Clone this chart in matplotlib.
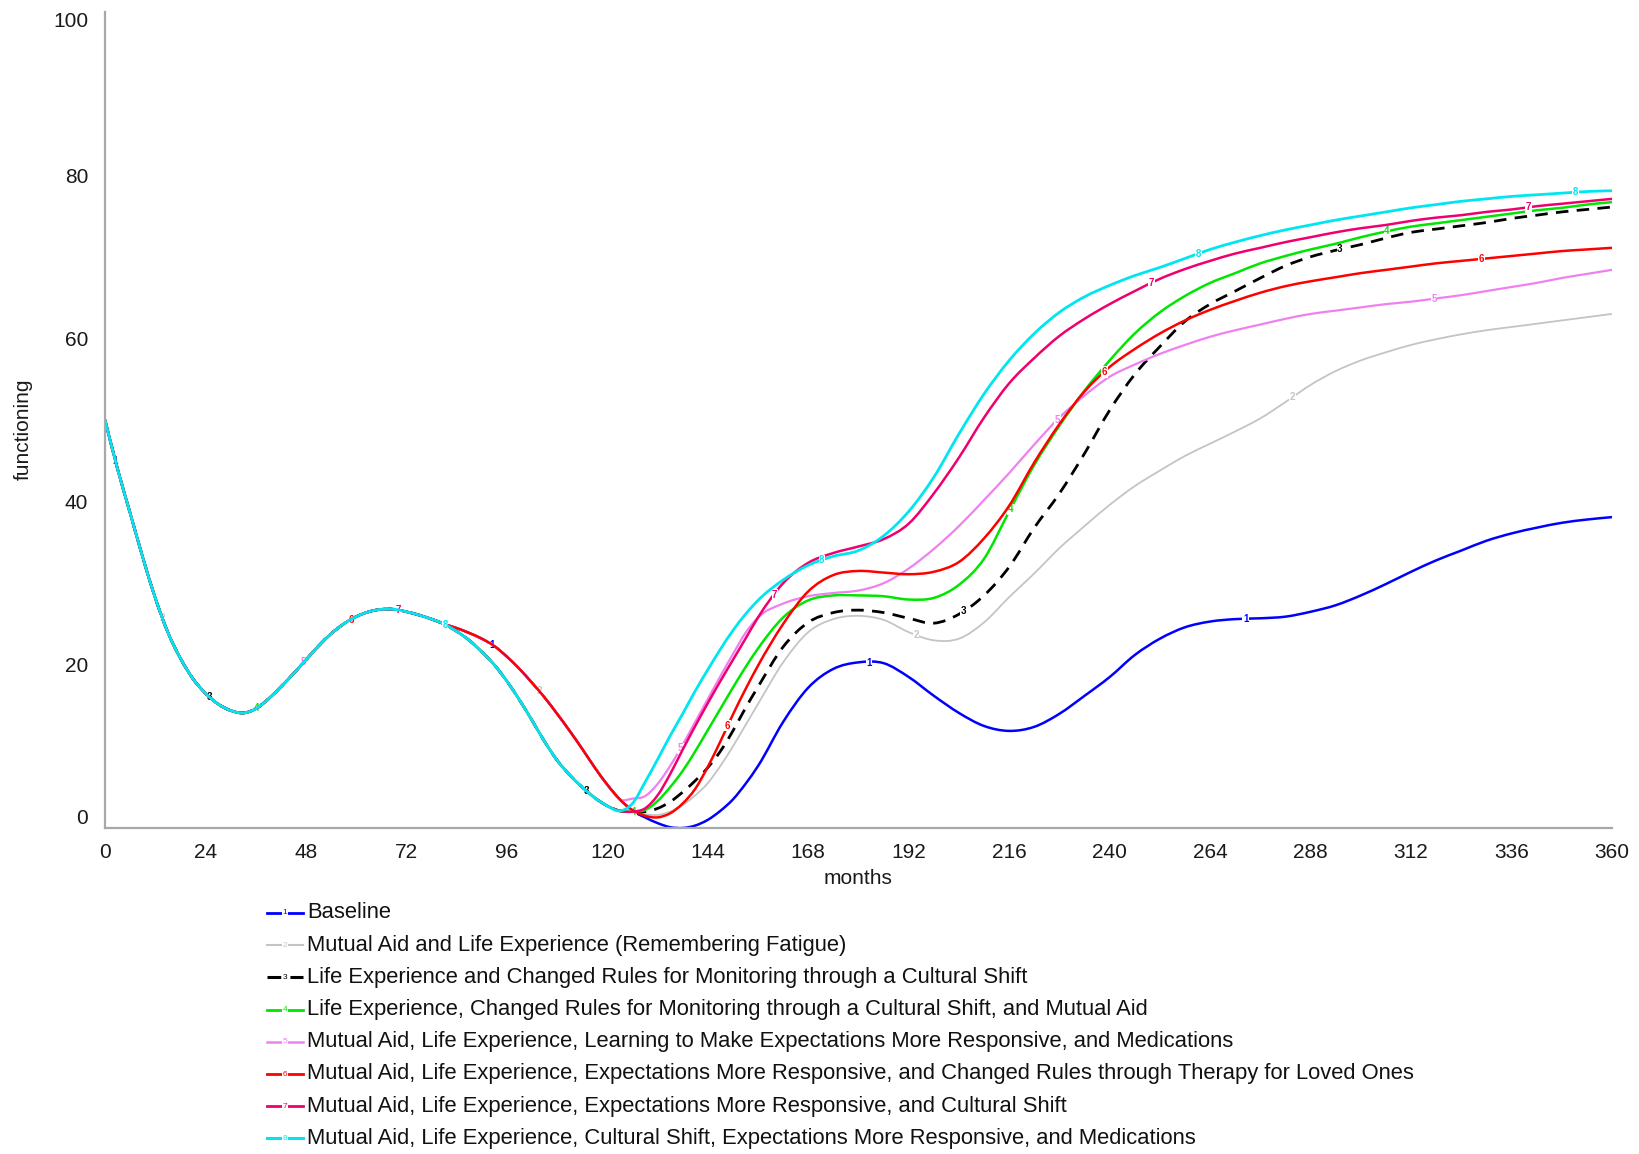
import numpy as np
import matplotlib.pyplot as plt
from matplotlib.lines import Line2D
from matplotlib.path import Path
from matplotlib.patches import PathPatch

plt.rcParams['font.family'] = ['Liberation Sans', 'DejaVu Sans']

W, H = 1640, 1154

# time grid (months): 3-month steps up to 156, then 6-month steps
months = list(range(0, 157, 3)) + list(range(162, 361, 6))

# common trajectory of every run, 0..81
shared_start = [50.0, 44.0, 38.6, 33.2, 28.2, 24.0, 20.8, 18.3, 16.5, 15.2,
                14.4, 14.1, 14.6, 15.8, 17.3, 18.9, 20.6, 22.3, 23.8, 25.0,
                25.9, 26.5, 26.8, 26.8, 26.5, 26.1, 25.6, 25.0]

# 84..123: runs without the cultural shift decline more slowly
slow_decline = [24.5, 23.9, 23.2, 22.3, 21.0, 19.5, 17.8, 16.0, 14.0, 11.9,
                9.7, 7.4, 5.3, 3.5]
fast_decline = [24.1, 23.0, 21.6, 20.0, 18.0, 15.7, 13.2, 10.6, 8.3, 6.5,
                5.0, 3.7, 2.7, 2.1]

# 126..360
tail_baseline = [2.1, 1.3, 0.6, 0.1, 0.0, 0.3, 1.0, 2.1, 3.5, 5.4, 7.6,
                 13.0, 17.2, 19.5, 20.3, 20.2, 18.5, 16.2, 14.1, 12.5, 11.9,
                 12.4, 14.0, 16.2, 18.5, 21.2, 23.2, 24.6, 25.3, 25.6, 25.7,
                 25.9, 26.5, 27.3, 28.5, 29.9, 31.4, 32.8, 34.0, 35.2, 36.1,
                 36.8, 37.4, 37.8, 38.1]
tail_mutual_aid = [2.1, 1.7, 1.6, 2.0, 2.8, 4.0, 5.5, 7.6, 10.0, 12.6, 15.2,
                   20.3, 24.0, 25.6, 26.0, 25.5, 24.0, 23.0, 23.2, 25.2, 28.3,
                   31.2, 34.3, 37.0, 39.6, 41.9, 43.8, 45.6, 47.1, 48.6, 50.2,
                   52.2, 54.3, 56.0, 57.3, 58.3, 59.2, 59.9, 60.5, 61.0, 61.4,
                   61.8, 62.2, 62.6, 63.0]
tail_rules = [2.0, 2.0, 2.4, 3.2, 4.4, 5.8, 7.4, 9.4, 11.9, 14.7, 17.3,
              22.2, 25.2, 26.4, 26.7, 26.4, 25.7, 25.1, 26.2, 28.5, 32.0,
              36.8, 41.0, 45.9, 51.2, 55.6, 59.0, 62.1, 64.2, 65.8, 67.4,
              68.9, 70.0, 70.8, 71.5, 72.3, 73.0, 73.4, 73.8, 74.2, 74.7,
              75.1, 75.5, 75.8, 76.1]
tail_rules_aid = [2.0, 2.2, 3.3, 5.0, 7.0, 9.4, 12.0, 14.6, 17.2, 19.7, 22.0,
                  25.8, 27.9, 28.5, 28.5, 28.4, 28.0, 28.2, 29.8, 33.0, 38.8,
                  44.5, 49.3, 53.6, 57.3, 60.6, 63.2, 65.2, 66.8, 68.0, 69.2,
                  70.1, 70.9, 71.6, 72.4, 73.1, 73.7, 74.1, 74.5, 74.9, 75.3,
                  75.7, 76.0, 76.4, 76.7]
tail_learning = [3.6, 3.9, 5.4, 7.6, 10.2, 13.0, 15.8, 18.6, 21.3, 23.9, 25.8,
                 27.5, 28.4, 28.8, 29.1, 30.0, 31.8, 34.2, 37.0, 40.2, 43.5,
                 47.0, 50.3, 53.0, 55.3, 56.8, 58.1, 59.2, 60.2, 61.0, 61.7,
                 62.4, 63.0, 63.4, 63.8, 64.2, 64.5, 64.9, 65.3, 65.8, 66.3,
                 66.8, 67.4, 67.9, 68.4]
tail_therapy = [2.2, 1.5, 1.3, 1.8, 3.0, 4.8, 7.5, 10.6, 13.9, 17.0, 19.9,
                25.0, 29.0, 31.0, 31.5, 31.3, 31.1, 31.4, 32.6, 35.5, 39.5,
                44.8, 49.5, 53.5, 56.5, 58.7, 60.6, 62.2, 63.5, 64.6, 65.6,
                66.4, 67.0, 67.5, 68.0, 68.4, 68.8, 69.2, 69.5, 69.8, 70.1,
                70.4, 70.7, 70.9, 71.1]
tail_shift = [2.0, 2.4, 4.0, 6.6, 9.6, 12.5, 15.3, 18.0, 20.6, 23.2, 25.8,
              30.0, 32.5, 33.7, 34.5, 35.4, 37.3, 41.0, 45.4, 50.3, 54.5,
              57.6, 60.3, 62.4, 64.2, 65.8, 67.3, 68.5, 69.5, 70.4, 71.1,
              71.8, 72.4, 73.0, 73.5, 73.9, 74.4, 74.8, 75.1, 75.5, 75.8,
              76.2, 76.5, 76.8, 77.1]
tail_medications = [3.0, 5.6, 8.4, 11.3, 14.0, 16.8, 19.4, 21.9, 24.2, 26.2, 27.9,
                    30.4, 32.2, 33.3, 34.0, 35.8, 38.8, 43.0, 48.3, 53.2, 57.3,
                    60.6, 63.2, 65.1, 66.5, 67.7, 68.7, 69.8, 70.9, 71.8, 72.6,
                    73.3, 73.9, 74.5, 75.0, 75.5, 76.0, 76.4, 76.8, 77.1, 77.4,
                    77.6, 77.8, 78.0, 78.1]

names = [
    "Baseline",
    "Mutual Aid and Life Experience (Remembering Fatigue)",
    "Life Experience and Changed Rules for Monitoring through a Cultural Shift",
    "Life Experience, Changed Rules for Monitoring through a Cultural Shift, and Mutual Aid",
    "Mutual Aid, Life Experience, Learning to Make Expectations More Responsive, and Medications",
    "Mutual Aid, Life Experience, Expectations More Responsive, and Changed Rules through Therapy for Loved Ones",
    "Mutual Aid, Life Experience, Expectations More Responsive, and Cultural Shift",
    "Mutual Aid, Life Experience, Cultural Shift, Expectations More Responsive, and Medications",
]
tails = [tail_baseline, tail_mutual_aid, tail_rules, tail_rules_aid,
         tail_learning, tail_therapy, tail_shift, tail_medications]
declines = [slow_decline, slow_decline, fast_decline, fast_decline,
            slow_decline, slow_decline, fast_decline, fast_decline]

colors = ['#0000ff', '#c4c4c4', '#000000', '#00e600',
          '#f080f0', '#ff0000', '#f0006e', '#00e6f0']
widths = [1.8, 1.3, 2.0, 1.8, 1.6, 1.8, 1.8, 2.0]
styles = ['-', '-', (0, (4.5, 3.0)), '-', '-', '-', '-', '-']


def smooth_path(x, y):
    """Cubic Hermite curve through every sample, as Bezier segments."""
    x = np.asarray(x, float)
    y = np.asarray(y, float)
    m = np.gradient(y, x)
    verts = [(x[0], y[0])]
    for i in range(len(x) - 1):
        d = (x[i + 1] - x[i]) / 3
        verts += [(x[i] + d, y[i] + m[i] * d),
                  (x[i + 1] - d, y[i + 1] - m[i + 1] * d),
                  (x[i + 1], y[i + 1])]
    codes = [Path.MOVETO] + [Path.CURVE4] * (len(verts) - 1)
    return Path(verts, codes)


fig = plt.figure(figsize=(W / 100, H / 100), dpi=100)
ax = fig.add_axes([105 / W, 1 - 828 / H, (1612 - 105) / W, (828 - 12) / H])
ax.set_xlim(0, 360)
ax.set_ylim(0, 100)

for k in range(8):
    values = np.array(shared_start + declines[k] + tails[k])
    z = 2 + k
    ax.add_patch(PathPatch(smooth_path(months, values), fill=False,
                           edgecolor=colors[k], lw=widths[k], ls=styles[k],
                           capstyle='butt', zorder=z))
    # run number printed along the curve every 90 months
    for x in 2.5 + 11.25 * k + 90 * np.arange(4):
        y = np.interp(x, months, values)
        ax.text(x, y, str(k + 1), color=colors[k], fontsize=7, fontweight='bold',
                ha='center', va='center', zorder=z + 0.5,
                bbox=dict(fc='white', ec='none', pad=0.4))

for side in ['top', 'right']:
    ax.spines[side].set_visible(False)
for side in ['left', 'bottom']:
    ax.spines[side].set_color('#a8a8a8')
    ax.spines[side].set_linewidth(1.6)
    ax.spines[side].set_zorder(20)

ax.set_xticks(range(0, 361, 24))
ax.set_yticks(range(0, 101, 20))
ax.tick_params(length=0, labelsize=15, colors='#1a1a1a')
ax.tick_params(axis='x', pad=11)
ax.tick_params(axis='y', pad=12)
ylabels = ax.get_yticklabels()
ylabels[0].set_va('bottom')
ylabels[-1].set_va('top')

fig.text(23 / W, 1 - 429 / H, "functioning", rotation=90, fontsize=15,
         ha='center', va='center', color='#1a1a1a')
fig.text(858 / W, 1 - 879 / H, "months", fontsize=15,
         ha='center', va='center', color='#1a1a1a')

# legend rows below the plot
for k, name in enumerate(names):
    py = 913 + 32.2 * k
    fy = 1 - py / H
    fig.add_artist(Line2D([267 / W, 303 / W], [fy, fy], transform=fig.transFigure,
                          color=colors[k], lw=widths[k] + 0.2, ls=styles[k]))
    fig.text(285 / W, fy, str(k + 1), color=colors[k], fontsize=6,
             ha='center', va='center',
             bbox=dict(fc='white', ec='none', pad=0.3))
    fig.text(307 / W, fy, name, fontsize=15.8, ha='left', va='center',
             color='#111111')

plt.savefig("out.png", dpi=100)
